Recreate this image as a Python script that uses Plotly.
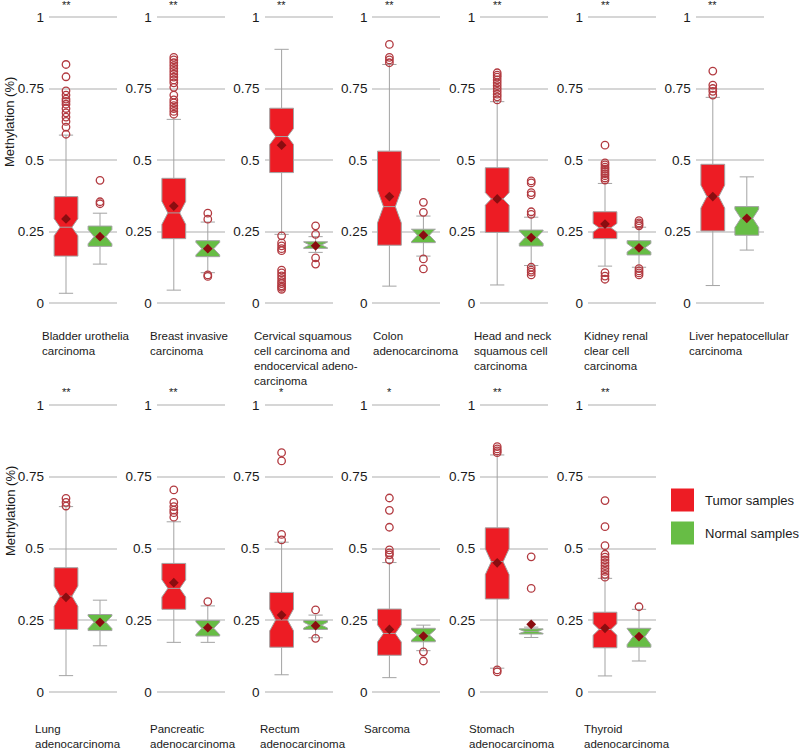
import plotly.graph_objects as go

# ---------------- data ----------------
cancer_labels = [
    "Bladder urothelia<br>carcinoma",
    "Breast invasive<br>carcinoma",
    "Cervical squamous<br>cell carcinoma and<br>endocervical adeno-<br>carcinoma",
    "Colon<br>adenocarcinoma",
    "Head and neck<br>squamous cell<br>carcinoma",
    "Kidney renal<br>clear cell<br>carcinoma",
    "Liver hepatocellular<br>carcinoma",
    "Lung<br>adenocarcinoma",
    "Pancreatic<br>adenocarcinoma",
    "Rectum<br>adenocarcinoma",
    "Sarcoma",
    "Stomach<br>adenocarcinoma",
    "Thyroid<br>adenocarcinoma",
]
significance = ["**", "**", "**", "**", "**", "**", "**",
                "**", "**", "*", "*", "**", "**"]
group_names = ["Tumor samples", "Normal samples"]
ytick_vals = [0, 0.25, 0.5, 0.75, 1]
ytick_text = ["0", "0.25", "0.5", "0.75", "1"]
y_title = "Methylation (%)"

tumor_q1 = [0.164, 0.225, 0.456, 0.202, 0.247, 0.225, 0.252, 0.218, 0.288, 0.156, 0.128, 0.324, 0.154]
tumor_median = [0.265, 0.315, 0.582, 0.337, 0.364, 0.263, 0.372, 0.334, 0.361, 0.251, 0.204, 0.454, 0.218]
tumor_q3 = [0.372, 0.436, 0.681, 0.531, 0.473, 0.319, 0.485, 0.433, 0.448, 0.347, 0.289, 0.572, 0.278]
tumor_lower = [0.034, 0.045, 0.240, 0.059, 0.063, 0.129, 0.061, 0.057, 0.173, 0.060, 0.050, 0.083, 0.056]
tumor_upper = [0.587, 0.642, 0.887, 0.834, 0.704, 0.418, 0.719, 0.646, 0.593, 0.522, 0.451, 0.826, 0.396]
tumor_mean = [0.294, 0.339, 0.552, 0.372, 0.364, 0.276, 0.372, 0.330, 0.381, 0.268, 0.218, 0.450, 0.222]
tumor_notch = [0.030, 0.040, 0.028, 0.057, 0.022, 0.015, 0.040, 0.035, 0.030, 0.038, 0.030, 0.045, 0.020]
tumor_outliers = [
    [0.834, 0.791, 0.742, 0.727, 0.713, 0.705, 0.695, 0.68, 0.665, 0.65, 0.635, 0.615, 0.59],
    [0.859, 0.85, 0.84, 0.83, 0.82, 0.81, 0.80, 0.79, 0.78, 0.77, 0.754, 0.727, 0.71, 0.70, 0.69, 0.68, 0.67, 0.66],
    [0.235, 0.21, 0.20, 0.19, 0.183, 0.115, 0.105, 0.095, 0.085, 0.075, 0.068, 0.06, 0.055, 0.048],
    [0.904, 0.859, 0.85, 0.84],
    [0.805, 0.797, 0.79, 0.78, 0.77, 0.76, 0.75, 0.74, 0.73, 0.721, 0.71],
    [0.552, 0.49, 0.483, 0.475, 0.468, 0.46, 0.452, 0.445, 0.437, 0.43, 0.106, 0.094, 0.083],
    [0.811, 0.762, 0.75, 0.74, 0.727],
    [0.675, 0.661, 0.648],
    [0.704, 0.661, 0.646, 0.634, 0.625, 0.609],
    [0.834, 0.805, 0.549, 0.53],
    [0.676, 0.633, 0.574, 0.495, 0.485, 0.478, 0.46],
    [0.855, 0.847, 0.84, 0.834, 0.077, 0.07],
    [0.667, 0.576, 0.51, 0.48, 0.47, 0.46, 0.45, 0.44, 0.43, 0.42, 0.41, 0.40],
]

normal_q1 = [0.198, 0.162, 0.191, 0.211, 0.199, 0.168, 0.237, 0.214, 0.195, 0.218, 0.175, 0.202, 0.156]
normal_median = [0.232, 0.190, 0.203, 0.237, 0.230, 0.193, 0.296, 0.243, 0.222, 0.233, 0.199, 0.211, 0.193]
normal_q3 = [0.269, 0.218, 0.214, 0.258, 0.255, 0.218, 0.337, 0.270, 0.249, 0.249, 0.222, 0.220, 0.222]
normal_lower = [0.136, 0.106, 0.177, 0.164, 0.131, 0.125, 0.185, 0.161, 0.173, 0.189, 0.144, 0.190, 0.108]
normal_upper = [0.314, 0.283, 0.232, 0.304, 0.300, 0.265, 0.441, 0.320, 0.300, 0.268, 0.233, 0.226, 0.288]
normal_mean = [0.232, 0.190, 0.200, 0.237, 0.229, 0.193, 0.296, 0.243, 0.224, 0.231, 0.195, 0.236, 0.193]
normal_notch = [0.025, 0.022, 0.010, 0.022, 0.022, 0.015, 0.032, 0.022, 0.022, 0.010, 0.018, 0.007, 0.028]
normal_outliers = [
    [0.429, 0.354, 0.347],
    [0.314, 0.293, 0.098, 0.093],
    [0.27, 0.24, 0.158, 0.136],
    [0.352, 0.317, 0.154, 0.119],
    [0.427, 0.42, 0.386, 0.378, 0.319, 0.31, 0.125, 0.115, 0.108, 0.098],
    [0.288, 0.28, 0.275, 0.27, 0.12, 0.112, 0.105, 0.098],
    [],
    [],
    [0.315],
    [0.286, 0.187],
    [0.14, 0.108],
    [0.471, 0.361],
    [0.297],
]

# ---------------- styling / layout ----------------
W, H = 799, 750
FONT = "Liberation Sans, Arial, Helvetica, sans-serif"
TXT = "#1a1a1a"
RED = "#ed1c24"
GREEN = "#67bd45"
LINE = "#a3a3a3"
OUT = "#b23a40"
MEAN = "#8a0d10"
GRID = "#d6d6d6"

col_x0 = [49 + 107.8 * c for c in range(7)]
panel_w = 68
row_y1 = [17, 405]   # pixel of value 1
row_y0 = [303, 692]  # pixel of value 0
yr = [-0.03, 1.03]
top_label_x = [40, 148, 252, 371, 472, 582, 687]
bot_label_x = [33, 148, 258, 362, 467, 582]
label_top_y = [328, 721]
star_y = [5, 392]

fig = go.Figure()
layout = dict(
    width=W, height=H, margin=dict(l=0, r=0, t=0, b=0),
    paper_bgcolor="white", plot_bgcolor="white",
    showlegend=False, font=dict(family=FONT, color=TXT),
    annotations=[], shapes=[],
)

for i in range(len(cancer_labels)):
    row = 0 if i < 7 else 1
    col = i if i < 7 else i - 7
    n = i + 1
    xa = "x" if n == 1 else f"x{n}"
    ya = "y" if n == 1 else f"y{n}"
    x0 = col_x0[col]
    ppu = row_y0[row] - row_y1[row]
    ytop = row_y1[row] - (yr[1] - 1) * ppu
    ybot = row_y0[row] + (0 - yr[0]) * ppu
    layout["xaxis" if n == 1 else f"xaxis{n}"] = dict(
        domain=[x0 / W, (x0 + panel_w) / W], range=[-0.5, 1.5],
        anchor=ya, showticklabels=False, showgrid=False, zeroline=False,
        showline=False, ticks="", fixedrange=True)
    layout["yaxis" if n == 1 else f"yaxis{n}"] = dict(
        domain=[1 - ybot / H, 1 - ytop / H], range=yr, anchor=xa,
        tickvals=ytick_vals, ticktext=ytick_text, showgrid=True,
        gridcolor=GRID, gridwidth=1.6, zeroline=False, showline=False,
        ticks="", ticklabelstandoff=4,
        tickfont=dict(size=13.5, family=FONT, color=TXT), fixedrange=True)

    for pos, col_fill, q1, med, q3, lo, hi, nt in (
        (0, RED, tumor_q1, tumor_median, tumor_q3, tumor_lower, tumor_upper, tumor_notch),
        (1, GREEN, normal_q1, normal_median, normal_q3, normal_lower, normal_upper, normal_notch),
    ):
        fig.add_trace(go.Box(
            x=[pos], q1=[q1[i]], median=[med[i]], q3=[q3[i]],
            lowerfence=[lo[i]], upperfence=[hi[i]], notchspan=[nt[i]],
            notched=True, notchwidth=0.25, width=0.7, whiskerwidth=0.6,
            fillcolor=col_fill, line=dict(color=LINE, width=1),
            boxpoints=False, hoverinfo="skip", xaxis=xa, yaxis=ya,
            name=group_names[pos]))

    for pos, outs in ((0, tumor_outliers[i]), (1, normal_outliers[i])):
        if outs:
            fig.add_trace(go.Scatter(
                x=[pos] * len(outs), y=outs, mode="markers",
                marker=dict(symbol="circle-open", size=7.5, color=OUT,
                            line=dict(width=1.3, color=OUT)),
                hoverinfo="skip", xaxis=xa, yaxis=ya, cliponaxis=False))

    fig.add_trace(go.Scatter(
        x=[0, 1], y=[tumor_mean[i], normal_mean[i]], mode="markers",
        marker=dict(symbol="diamond", size=7.5, color=MEAN),
        hoverinfo="skip", xaxis=xa, yaxis=ya, cliponaxis=False))

    # significance stars above tumor box
    layout["annotations"].append(dict(
        text=significance[i], xref=xa, x=0, yref="paper",
        y=1 - star_y[row] / H, xanchor="center", yanchor="middle",
        showarrow=False, font=dict(size=11, family=FONT, color=TXT)))

    # category label
    lx = top_label_x[col] if row == 0 else bot_label_x[col]
    layout["annotations"].append(dict(
        text=cancer_labels[i], xref="paper", yref="paper",
        x=lx / W, y=1 - label_top_y[row] / H, xanchor="left", yanchor="top",
        align="left", showarrow=False,
        font=dict(size=11.5, family=FONT, color=TXT)))

# y-axis titles
for ty in (122, 511):
    layout["annotations"].append(dict(
        text=y_title, xref="paper", yref="paper", x=10 / W, y=1 - ty / H,
        xanchor="center", yanchor="middle", textangle=-90, showarrow=False,
        font=dict(size=13, family=FONT, color=TXT)))

# manual legend
for k, (colr, ycen) in enumerate(((RED, 500), (GREEN, 533))):
    layout["shapes"].append(dict(
        type="rect", xref="paper", yref="paper",
        x0=671 / W, x1=694 / W, y0=1 - (ycen + 11.5) / H, y1=1 - (ycen - 11.5) / H,
        fillcolor=colr, line=dict(width=0)))
    layout["annotations"].append(dict(
        text=group_names[k], xref="paper", yref="paper", x=703 / W,
        y=1 - ycen / H, xanchor="left", yanchor="middle", showarrow=False,
        font=dict(size=13, family=FONT, color=TXT)))

fig.update_layout(**layout)
fig.write_html("out.html", config={"displayModeBar": False},
               post_script="document.body.style.margin='0px';document.body.style.overflow='hidden';")
